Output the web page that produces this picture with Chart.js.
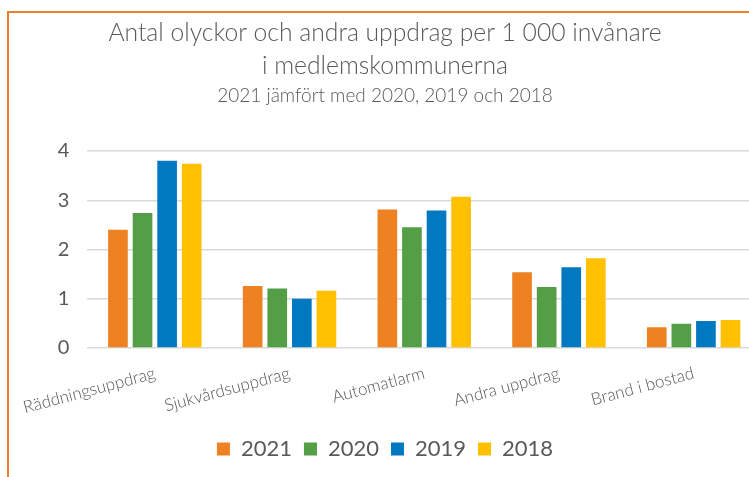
<!DOCTYPE html>
<html>
<head>
<meta charset="utf-8">
<script src="https://cdn.jsdelivr.net/npm/chart.js@4"></script>
<style>
  html, body { margin: 0; padding: 0; background: #fff; overflow: hidden; }
  #frame {
    position: absolute; left: 7px; top: 11px;
    width: 766px; height: 470px;
    border-top: 2px solid #ED7D31; border-left: 2px solid #ED7D31;
  }
  #wrap { position: relative; width: 752px; height: 457px; }
</style>
</head>
<body>
<div id="frame"><div id="wrap"><canvas id="chart"></canvas></div></div>
<script>
// Data
const categories = ['Räddningsuppdrag', 'Sjukvårdsuppdrag', 'Automatlarm', 'Andra uppdrag', 'Brand i bostad'];
const years = ['2021', '2020', '2019', '2018'];
const values2021 = [2.40, 1.26, 2.81, 1.54, 0.42];
const values2020 = [2.74, 1.21, 2.45, 1.24, 0.49];
const values2019 = [3.80, 1.00, 2.79, 1.64, 0.55];
const values2018 = [3.74, 1.16, 3.07, 1.82, 0.57];
const colors = ['#EE8222', '#549E46', '#0079C1', '#FFC000'];

const grey = '#595959';
const font = 'Lato, "Open Sans", sans-serif';

const series = [values2021, values2020, values2019, values2018];

new Chart(document.getElementById('chart'), {
    type: 'bar',
    data: {
        labels: categories,
        datasets: series.map((vals, i) => ({
            label: years[i],
            data: vals,
            backgroundColor: colors[i],
            categoryPercentage: 0.73,
            barPercentage: 0.8
        }))
    },
    options: {
        responsive: true,
        maintainAspectRatio: false,
        animation: false,
        layout: { padding: 0 },
        scales: {
            x: {
                grid: { display: false },
                border: { display: false },
                ticks: {
                    color: grey,
                    font: { family: font, size: 17, weight: 300 },
                    minRotation: 15,
                    maxRotation: 15,
                    padding: 7
                },
                afterFit: scale => { scale.height = 78; }
            },
            y: {
                min: 0,
                max: 4,
                ticks: {
                    stepSize: 1,
                    color: grey,
                    padding: 18,
                    font: { family: font, size: 20 }
                },
                grid: { color: '#d9d9d9', lineWidth: 1.5, drawTicks: false },
                border: { display: false },
                afterFit: scale => { scale.width = 77; }
            }
        },
        plugins: {
            title: {
                display: true,
                text: ['Antal olyckor och andra uppdrag per 1 000 invånare', 'i medlemskommunerna'],
                color: grey,
                font: { family: font, size: 24.7, weight: 300, lineHeight: '33px' },
                padding: { top: 4, bottom: 0 }
            },
            subtitle: {
                display: true,
                text: '2021 jämfört med 2020, 2019 och 2018',
                color: grey,
                font: { family: font, size: 19, weight: 300, lineHeight: '24px' },
                padding: { top: 1, bottom: 43 }
            },
            legend: {
                position: 'bottom',
                labels: {
                    color: grey,
                    font: { family: font, size: 22 },
                    boxWidth: 13,
                    boxHeight: 13,
                    padding: 12
                }
            },
            tooltip: { enabled: false }
        }
    }
});
</script>
</body>
</html>
